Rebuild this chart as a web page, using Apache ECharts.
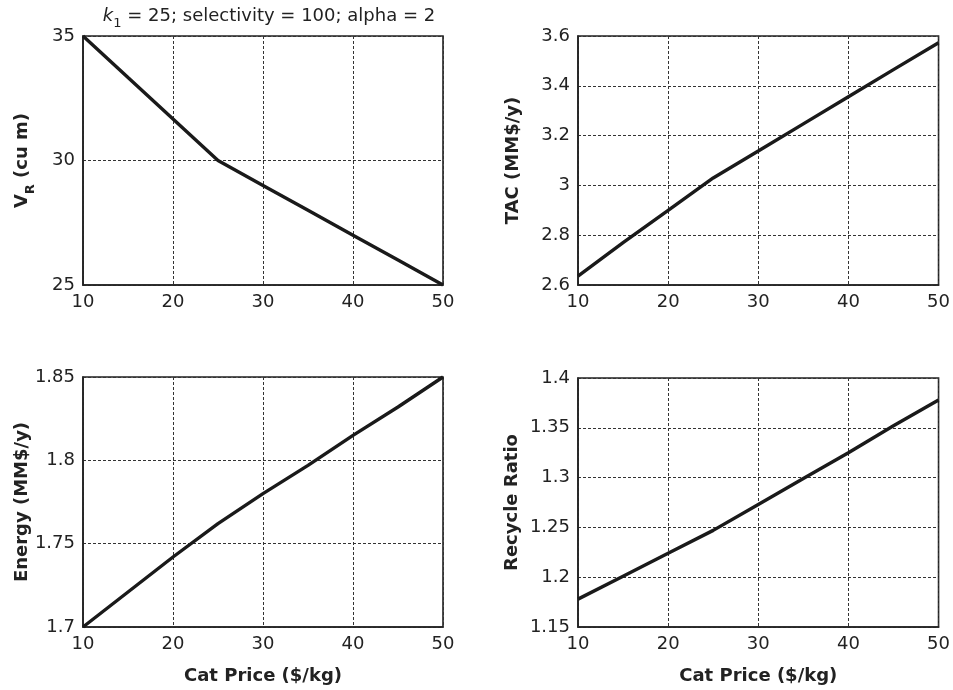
<!DOCTYPE html>
<html>
<head>
<meta charset="utf-8">
<script src="https://cdn.jsdelivr.net/npm/echarts@6/dist/echarts.min.js"></script>
<style>
html,body{margin:0;padding:0;background:#fff;}
#c{width:953px;height:690px;}
</style>
</head>
<body>
<div id="c"></div>
<script>
// ---- data ----
const catPrice = [10, 15, 20, 25, 30, 35, 40, 45, 50];
const reactorVolume = [35, 33.33, 31.67, 30, 29, 28, 27, 26, 25];
const tac = [2.636, 2.77, 2.90, 3.03, 3.138, 3.247, 3.356, 3.465, 3.573];
const energy = [1.700, 1.721, 1.742, 1.762, 1.780, 1.797, 1.815, 1.832, 1.850];
const recycleRatio = [1.178, 1.201, 1.224, 1.247, 1.273, 1.299, 1.325, 1.352, 1.378];
const xTicks = [10, 20, 30, 40, 50];
const yRanges = [[25, 35, 5], [2.6, 3.6, 0.2], [1.7, 1.85, 0.05], [1.15, 1.4, 0.05]];
const yNames = ['{b|V}{sub|R}{b| (cu m)}', '{b|TAC (MM$/y)}', '{b|Energy (MM$/y)}', '{b|Recycle Ratio}'];
const xName = 'Cat Price ($/kg)';
const titleText = '{i|k}{s|1}{n| = 25; selectivity = 100; alpha = 2}';

const FONT = '"DejaVu Sans", Verdana, sans-serif';
const seriesData = [reactorVolume, tac, energy, recycleRatio];
const grids = [
  {left: 83, top: 36, width: 360, height: 249},
  {left: 578, top: 36, width: 362, height: 249},
  {left: 83, top: 377, width: 360, height: 250},
  {left: 578, top: 378, width: 362, height: 249}
];
const yGaps = [52, 56, 52, 57];

const option = {
  backgroundColor: '#fff',
  animation: false,
  title: {
    text: titleText,
    left: 264,
    top: 2,
    textAlign: 'center',
    textStyle: {
      fontFamily: FONT, fontSize: 18, color: '#222', fontWeight: 'normal',
      rich: {
        i: {fontFamily: FONT, fontSize: 18, fontStyle: 'italic', color: '#222'},
        s: {fontFamily: FONT, fontSize: 13, color: '#222', verticalAlign: 'bottom', padding: [0, 0, -5, 0]},
        n: {fontFamily: FONT, fontSize: 18, color: '#222'}
      }
    }
  },
  grid: grids.map(g => Object.assign({show: true, borderColor: '#222', borderWidth: 1.6, backgroundColor: '#fff', containLabel: false}, g)),
  xAxis: grids.map((g, i) => ({
    type: 'value', gridIndex: i, min: 10, max: 50, interval: 10,
    name: i >= 2 ? xName : '',
    nameLocation: 'middle', nameGap: 40,
    nameTextStyle: {fontFamily: FONT, fontSize: 18, fontWeight: 'bold', color: '#222'},
    axisLine: {show: true, lineStyle: {color: '#222', width: 1.6}},
    axisTick: {show: false},
    axisLabel: {fontFamily: FONT, fontSize: 18, color: '#222', margin: 8, formatter: v => xTicks.includes(v) ? String(v) : ''},
    splitLine: {show: true, lineStyle: {color: '#333', width: 1, type: [3, 2]}}
  })),
  yAxis: grids.map((g, i) => ({
    type: 'value', gridIndex: i, min: yRanges[i][0], max: yRanges[i][1], interval: yRanges[i][2],
    name: yNames[i],
    nameLocation: 'middle', nameGap: yGaps[i], nameRotate: 90,
    nameTextStyle: {
      fontFamily: FONT, fontSize: 18, fontWeight: 'bold', color: '#222',
      rich: {
        b: {fontFamily: FONT, fontSize: 18, fontWeight: 'bold', color: '#222'},
        sub: {fontFamily: FONT, fontSize: 13, fontWeight: 'bold', color: '#222', verticalAlign: 'bottom', padding: [0, 0, -6, 0]}
      }
    },
    axisLine: {show: true, lineStyle: {color: '#222', width: 1.6}},
    axisTick: {show: false},
    axisLabel: {fontFamily: FONT, fontSize: 18, color: '#222', margin: 8},
    splitLine: {show: true, lineStyle: {color: '#333', width: 1, type: [3, 2]}}
  })),
  series: seriesData.map((d, i) => ({
    type: 'line', xAxisIndex: i, yAxisIndex: i,
    data: catPrice.map((x, j) => [x, d[j]]),
    showSymbol: false, symbol: 'none',
    lineStyle: {color: '#1a1a1a', width: 3.4},
    clip: false
  }))
};

const chart = echarts.init(document.getElementById('c'), null, {renderer: 'canvas'});
chart.setOption(option);
</script>
</body>
</html>
